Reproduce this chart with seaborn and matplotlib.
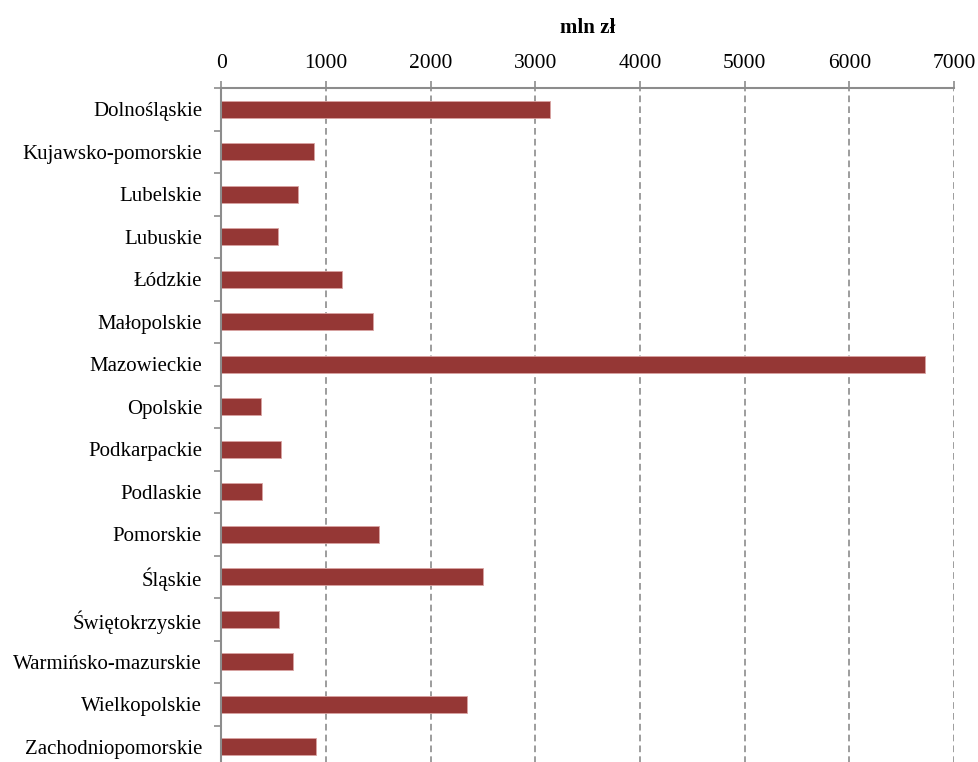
import matplotlib
matplotlib.use("Agg")
import matplotlib.pyplot as plt
import seaborn as sns
import pandas as pd
import numpy as np

## data
regions = ["Dolnośląskie", "Kujawsko-pomorskie", "Lubelskie", "Lubuskie", "Łódzkie",
           "Małopolskie", "Mazowieckie", "Opolskie", "Podkarpackie", "Podlaskie",
           "Pomorskie", "Śląskie", "Świętokrzyskie", "Warmińsko-mazurskie",
           "Wielkopolskie", "Zachodniopomorskie"]
values = [3140, 880, 731, 536, 1150, 1447, 6720, 376, 568, 392,
          1505, 2500, 549, 687, 2347, 901]
x_ticks = [0, 1000, 2000, 3000, 4000, 5000, 6000, 7000]

df = pd.DataFrame({"region": regions, "value": values})

## setting
sns.set_style("white")
plt.rcParams['font.family'] = ['Liberation Serif', 'DejaVu Serif']
plt.rcParams['text.color'] = 'black'
plt.rcParams['axes.labelcolor'] = 'black'
plt.rcParams['xtick.labelcolor'] = 'black'
plt.rcParams['ytick.labelcolor'] = 'black'
grey = "#8c8c8c"

fig = plt.figure(figsize=(9.79, 7.62), dpi=100)
ax = fig.add_axes([0.2262, -0.0079, 0.7484, 0.8924])

sns.barplot(data=df, x="value", y="region", color="#953735", width=0.41,
            saturation=1, edgecolor="#d9a3a2", linewidth=0.6, ax=ax)

ax.set_xlim(0, 7000)
ax.set_xticks(x_ticks)
ax.xaxis.tick_top()
ax.xaxis.set_label_position("top")
ax.set_xlabel("mln zł", fontsize=15, fontweight="bold", labelpad=15, color="black")
ax.set_ylabel("")
ax.tick_params(axis="x", labelsize=15.5, length=5, color=grey, width=1.2, pad=6,
               labelcolor="black")
ax.tick_params(axis="y", labelsize=15, length=0, pad=14, labelcolor="black")

## ticks between categories on the left
ax.set_yticks(np.arange(len(regions) + 1) - 0.5, minor=True)
ax.tick_params(axis="y", which="minor", length=5, color=grey, width=1.2, left=True)

for x in x_ticks[1:]:
    ax.axvline(x, color=grey, linestyle=(0, (4, 2.5)), linewidth=1.2, zorder=0)

for side in ["right", "bottom"]:
    ax.spines[side].set_visible(False)
for side in ["top", "left"]:
    ax.spines[side].set_color(grey)
    ax.spines[side].set_linewidth(1.5)

plt.savefig("out.png", dpi=100)
